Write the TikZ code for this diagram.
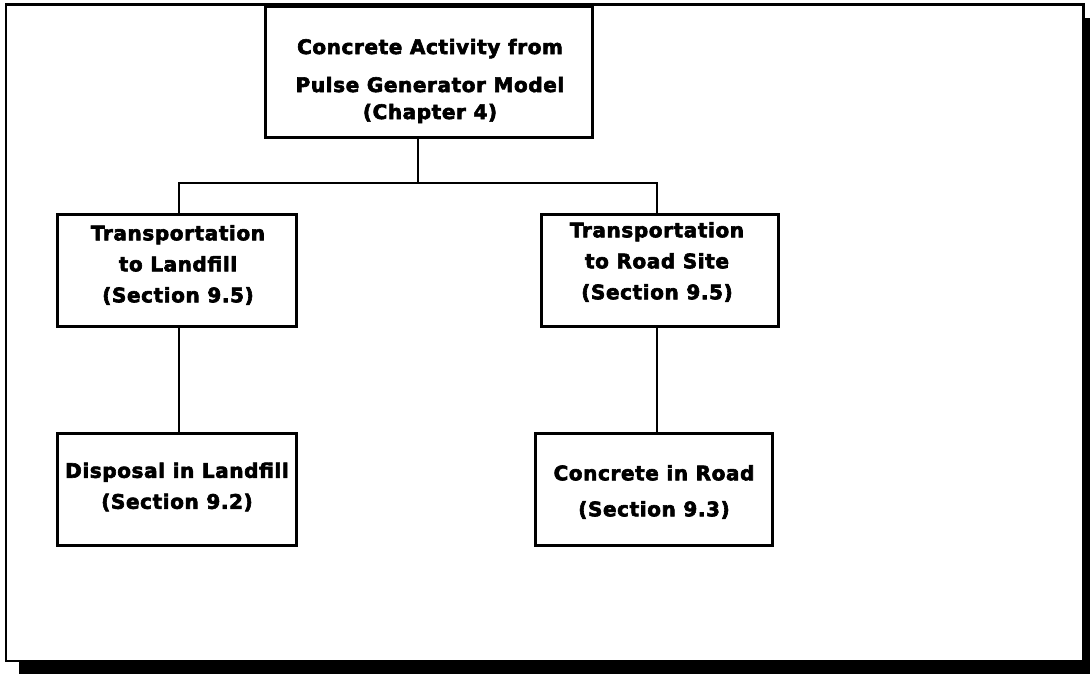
\documentclass[tikz,border=0pt]{standalone}
\usepackage{fontspec}
\setmainfont{DejaVu Sans}[BoldFeatures={LetterSpace=3,FakeBold=3}]
\begin{document}
\begin{tikzpicture}[x=1pt,y=-1pt,
  box/.style={draw, line width=3pt, inner sep=0pt},
  txt/.style={font=\fontsize{20}{31}\selectfont\bfseries, align=center, inner sep=0pt},
  conn/.style={line width=2.4pt}]
\useasboundingbox (0,0) rectangle (1090,674);
% drop shadow and frame
\fill (1082,18) rectangle (1090,674);
\fill (19,660) rectangle (1090,674);
\draw[line width=2.8pt] (6,4.8) rectangle (1083.5,661);
% boxes
\node[box, minimum width=327pt, minimum height=131pt] (top) at (428.5,72.5) {};
\node[box, minimum width=239pt, minimum height=112pt] (ml) at (176.5,270) {};
\node[box, minimum width=237pt, minimum height=112pt] (mr) at (659.5,270) {};
\node[box, minimum width=239pt, minimum height=112pt] (bl) at (176.5,489) {};
\node[box, minimum width=237pt, minimum height=112pt] (br) at (653.5,489) {};
% texts
\node[txt] (topt) at (430,81) {Concrete Activity from\\[7pt] Pulse Generator Model\\[-4pt] (Chapter 4)};
\node[txt] (mlt) at (178,265) {Transportation\\ to Landfill\\ (Section 9.5)};
\node[txt] (mrt) at (657,262) {Transportation\\ to Road Site\\ (Section 9.5)};
\node[txt] (blt) at (177,487) {Disposal in Landfill\\ (Section 9.2)};
\node[txt] (brt) at (654,492) {Concrete in Road\\[5pt] (Section 9.3)};
% connectors
\coordinate (j) at (418,183);
\coordinate (jl) at (179,183);
\coordinate (jr) at (657,183);
\draw[conn] (top.south -| j) -- (j);
\draw[conn] (ml.north -| jl) -- (jl) -- (jr) -- (mr.north -| jr);
\draw[conn] (ml.south -| jl) -- (bl.north -| jl);
\draw[conn] (mr.south -| jr) -- (br.north -| jr);
\end{tikzpicture}
\end{document}
